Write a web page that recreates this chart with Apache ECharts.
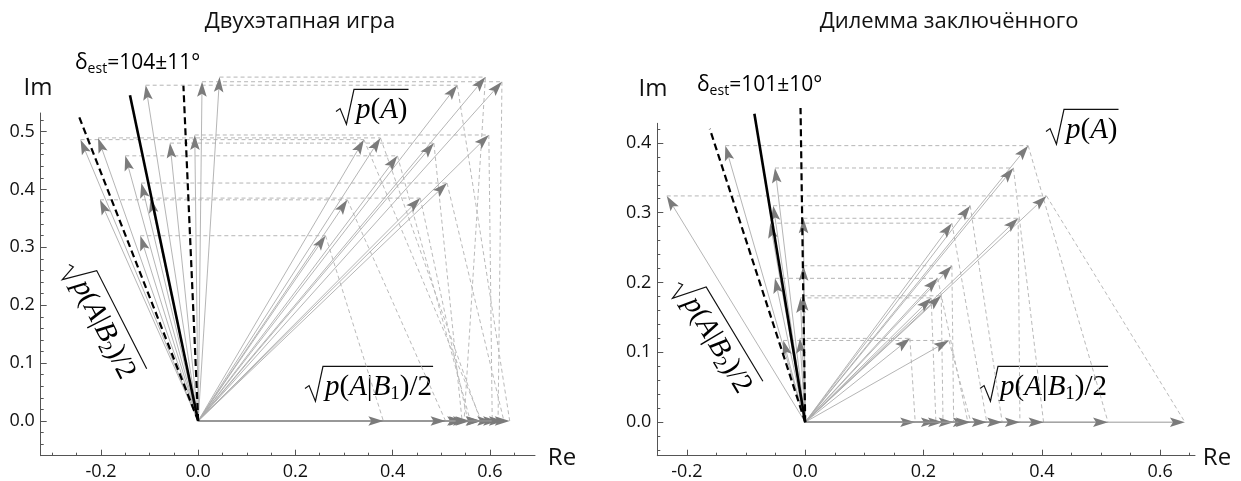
<!DOCTYPE html>
<html><head><meta charset="utf-8">
<script src="https://cdn.jsdelivr.net/npm/echarts@6/dist/echarts.min.js"></script>
<style>html,body{margin:0;padding:0;background:#fff}#c{width:1241px;height:481px}</style>
</head><body><div id="c"></div>
<script>
// ---------- DATA ----------
// Left panel: Двухэтапная игра
const leftB1Re = [0.547, 0.617, 0.641, 0.605, 0.581, 0.583, 0.543, 0.560, 0.629, 0.555, 0.509, 0.381];
const leftB2Re = [0.044, 0.008, -0.108, -0.007, -0.206, -0.242, -0.058, -0.150, -0.117, -0.098, -0.202, -0.119];
const leftB2Im = [0.594, 0.586, 0.580, 0.494, 0.489, 0.486, 0.480, 0.458, 0.411, 0.385, 0.382, 0.320];
const leftDeltaDeg = [104, 93, 115];   // estimate, lower, upper
const leftDeltaLen = 0.58;
// Right panel: Дилемма заключённого
const rightB1Re = [0.642, 0.512, 0.403, 0.363, 0.333, 0.307, 0.251, 0.275, 0.233, 0.221, 0.186, 0.280];
const rightB2Re = [-0.234, -0.135, -0.051, -0.003, -0.054, -0.059, -0.003, -0.051, -0.003, -0.008, -0.009, -0.037];
const rightB2Im = [0.324, 0.396, 0.364, 0.292, 0.310, 0.285, 0.224, 0.206, 0.181, 0.178, 0.120, 0.117];
const rightDeltaDeg = [101, 91, 111];
const rightDeltaLen = 0.45;
// Tick labels
const leftXTicks = [-0.2, 0, 0.2, 0.4, 0.6];
const leftXMinor = [-0.3, -0.25, -0.2, -0.15, -0.1, -0.05, 0, 0.05, 0.1, 0.15, 0.2, 0.25, 0.3, 0.35, 0.4, 0.45, 0.5, 0.55, 0.6, 0.65];
const leftYTicks = [0, 0.1, 0.2, 0.3, 0.4, 0.5];
const leftYMinor = [-0.04, -0.02, 0, 0.02, 0.04, 0.06, 0.08, 0.1, 0.12, 0.14, 0.16, 0.18, 0.2, 0.22, 0.24, 0.26, 0.28, 0.3, 0.32, 0.34, 0.36, 0.38, 0.4, 0.42, 0.44, 0.46, 0.48, 0.5, 0.52];
const rightXTicks = [-0.2, 0, 0.2, 0.4, 0.6];
const rightXMinor = [-0.2, -0.15, -0.1, -0.05, 0, 0.05, 0.1, 0.15, 0.2, 0.25, 0.3, 0.35, 0.4, 0.45, 0.5, 0.55, 0.6, 0.65];
const rightYTicks = [0, 0.1, 0.2, 0.3, 0.4];
const rightYMinor = [-0.04, -0.02, 0, 0.02, 0.04, 0.06, 0.08, 0.1, 0.12, 0.14, 0.16, 0.18, 0.2, 0.22, 0.24, 0.26, 0.28, 0.3, 0.32, 0.34, 0.36, 0.38, 0.4, 0.42];
const titles = ['Двухэтапная игра', 'Дилемма заключённого'];
const deltaLabels = ['104±11°', '101±10°'];

// ---------- CHART ----------
const chart = echarts.init(document.getElementById('c'), null, {renderer: 'canvas'});
const SANS = '"Open Sans", sans-serif';
const MF = '"Liberation Serif", serif';
const AX = '#555';

function majorX(g, mn, mx, ticks) {
  return {type: 'value', gridIndex: g, position: 'bottom', min: mn, max: mx,
    axisLine: {show: true, onZero: false, lineStyle: {color: AX, width: 1}},
    axisTick: {show: true, inside: true, length: 6, customValues: ticks, lineStyle: {color: AX}},
    axisLabel: {show: true, customValues: ticks, formatter: v => v.toFixed(1), fontFamily: SANS, fontSize: 18, color: '#111', margin: 7},
    splitLine: {show: false}};
}
function minorX(g, mn, mx, ticks) {
  return {type: 'value', gridIndex: g, position: 'bottom', min: mn, max: mx,
    axisLine: {show: false, onZero: false},
    axisTick: {show: true, inside: true, length: 3, customValues: ticks, lineStyle: {color: AX}},
    axisLabel: {show: false}, splitLine: {show: false}};
}
function majorY(g, mn, mx, ticks) {
  return {type: 'value', gridIndex: g, position: 'left', min: mn, max: mx,
    axisLine: {show: true, onZero: false, lineStyle: {color: AX, width: 1}},
    axisTick: {show: true, inside: true, length: 6, customValues: ticks, lineStyle: {color: AX}},
    axisLabel: {show: true, customValues: ticks, formatter: v => v.toFixed(1), fontFamily: SANS, fontSize: 18, color: '#111', margin: 6},
    splitLine: {show: false}};
}
function minorY(g, mn, mx, ticks) {
  return {type: 'value', gridIndex: g, position: 'left', min: mn, max: mx,
    axisLine: {show: false, onZero: false},
    axisTick: {show: true, inside: true, length: 3, customValues: ticks, lineStyle: {color: AX}},
    axisLabel: {show: false}, splitLine: {show: false}};
}

function makeRender(lineStyle, head) {
  return function (params, api) {
    const p0 = api.coord([api.value(0), api.value(1)]);
    const p1 = api.coord([api.value(2), api.value(3)]);
    const dx = p1[0] - p0[0], dy = p1[1] - p0[1];
    const L = Math.hypot(dx, dy) || 1;
    const ux = dx / L, uy = dy / L, nx = -uy, ny = ux;
    const hl = 15, hw = 4.8, notch = 3;
    const children = [];
    const endCut = head ? hl - notch : 0;
    children.push({type: 'line', shape: {x1: p0[0], y1: p0[1], x2: p1[0] - ux * endCut, y2: p1[1] - uy * endCut}, style: Object.assign({fill: null}, lineStyle)});
    if (head) {
      const bx = p1[0] - ux * hl, by = p1[1] - uy * hl;
      children.push({type: 'polygon', shape: {points: [
        [p1[0], p1[1]], [bx + nx * hw, by + ny * hw], [p1[0] - ux * (hl - notch), p1[1] - uy * (hl - notch)], [bx - nx * hw, by - ny * hw]]},
        style: {fill: '#7b7b7b', stroke: null}});
    }
    return {type: 'group', children};
  };
}

function panelSeries(xi, yi, b1, b2r, b2i, deg, len) {
  const dashH = [], dashD = [], arB1 = [], arB2 = [], arSum = [];
  for (let k = 0; k < b1.length; k++) {
    const sRe = b1[k] + b2r[k], sIm = b2i[k];
    dashH.push([b2r[k], sIm, sRe, sIm]);
    dashD.push([sRe, sIm, b1[k], 0]);
    arB1.push([0, 0, b1[k], 0]);
    arB2.push([0, 0, b2r[k], b2i[k]]);
    arSum.push([0, 0, sRe, sIm]);
  }
  const dl = deg.map(d => [0, 0, len * Math.cos(d * Math.PI / 180), len * Math.sin(d * Math.PI / 180)]);
  const base = {type: 'custom', xAxisIndex: xi, yAxisIndex: yi, clip: false, encode: {x: [0, 2], y: [1, 3]}, silent: true};
  return [
    Object.assign({}, base, {z: 1, data: dashH, renderItem: makeRender({stroke: '#b5b5b5', lineWidth: 1, lineDash: [4, 3]}, false)}),
    Object.assign({}, base, {z: 1, data: dashD, renderItem: makeRender({stroke: '#bababa', lineWidth: 1, lineDash: [4, 3]}, false)}),
    Object.assign({}, base, {z: 2, data: arB1, renderItem: makeRender({stroke: '#999', lineWidth: 1}, true)}),
    Object.assign({}, base, {z: 2, data: arSum, renderItem: makeRender({stroke: '#adadad', lineWidth: 0.9}, true)}),
    Object.assign({}, base, {z: 2, data: arB2, renderItem: makeRender({stroke: '#adadad', lineWidth: 0.9}, true)}),
    Object.assign({}, base, {z: 3, data: [dl[0]], renderItem: makeRender({stroke: '#000', lineWidth: 2.6}, false)}),
    Object.assign({}, base, {z: 3, data: [dl[1], dl[2]], renderItem: makeRender({stroke: '#000', lineWidth: 2.2, lineDash: [7, 4]}, false)})
  ];
}

// ----- math labels -----
const MSZ = 29, SSZ = 19;
const rich = {
  i: {fontFamily: MF, fontStyle: 'italic', fontSize: MSZ, lineHeight: 34, color: '#111'},
  r: {fontFamily: MF, fontSize: MSZ, lineHeight: 34, color: '#111'},
  s: {fontFamily: MF, fontSize: SSZ, lineHeight: 19, color: '#111', verticalAlign: 'bottom'}
};
const cv = document.createElement('canvas').getContext('2d');
function segW(t, s) {
  const st = rich[s];
  cv.font = (st.fontStyle === 'italic' ? 'italic ' : '') + st.fontSize + 'px ' + st.fontFamily;
  return cv.measureText(t).width;
}
function sqrtLabel(x, y, rotDeg, segs) {
  let txt = '', w = 0;
  segs.forEach(([t, s]) => { txt += '{' + s + '|' + t + '}'; w += segW(t, s); });
  const top = -0.64 * MSZ, x0 = 0.62 * MSZ;
  return {type: 'group', x: x, y: y, rotation: -rotDeg * Math.PI / 180, children: [
    {type: 'polyline', shape: {points: [[0, 0.12 * MSZ], [0.14 * MSZ, 0.02 * MSZ], [0.36 * MSZ, 0.56 * MSZ], [x0, top], [x0 + w + 3, top]]}, style: {stroke: '#111', lineWidth: 1.2, fill: null}},
    {type: 'text', x: x0 + 2, y: 2, style: {text: txt, rich: rich, verticalAlign: 'middle', align: 'left'}}
  ]};
}
const segA = [['p', 'i'], ['(', 'r'], ['A', 'i'], [')', 'r']];
const segB1 = [['p', 'i'], ['(', 'r'], ['A', 'i'], ['|', 'r'], ['B', 'i'], ['1', 's'], [')/2', 'r']];
const segB2 = [['p', 'i'], ['(', 'r'], ['A', 'i'], ['|', 'r'], ['B', 'i'], ['2', 's'], [')/2', 'r']];

function deltaLabel(x, y, val) {
  return {type: 'text', x: x, y: y, style: {text: '{n|δ}{s|est}{n|=' + val + '}', verticalAlign: 'middle', align: 'left',
    rich: {n: {fontFamily: SANS, fontSize: 21, lineHeight: 26, color: '#111'}, s: {fontFamily: SANS, fontSize: 14, lineHeight: 14, color: '#111', verticalAlign: 'bottom'}}}};
}
function plain(x, y, t, size, align) {
  return {type: 'text', x: x, y: y, style: {text: t, fontFamily: SANS, fontSize: size, fill: '#111', align: align || 'center', verticalAlign: 'middle'}};
}

const option = {
  animation: false,
  backgroundColor: '#fff',
  grid: [
    {left: 40.7, top: 113, width: 494.3, height: 342.7},
    {left: 657.3, top: 123.3, width: 537.7, height: 332.4}
  ],
  xAxis: [majorX(0, -0.324, 0.693, leftXTicks), minorX(0, -0.324, 0.693, leftXMinor),
          majorX(1, -0.25, 0.659, rightXTicks), minorX(1, -0.25, 0.659, rightXMinor)],
  yAxis: [majorY(0, -0.06, 0.532, leftYTicks), minorY(0, -0.06, 0.532, leftYMinor),
          majorY(1, -0.048, 0.428, rightYTicks), minorY(1, -0.048, 0.428, rightYMinor)],
  series: [].concat(
    panelSeries(0, 0, leftB1Re, leftB2Re, leftB2Im, leftDeltaDeg, leftDeltaLen),
    panelSeries(2, 2, rightB1Re, rightB2Re, rightB2Im, rightDeltaDeg, rightDeltaLen)
  ),
  graphic: [
    plain(300, 22, titles[0], 22),
    plain(949, 22, titles[1], 22),
    plain(38, 88, 'Im', 24),
    plain(653, 89, 'Im', 24),
    plain(562, 458, 'Re', 24),
    plain(1217, 458, 'Re', 24),
    deltaLabel(75, 63, deltaLabels[0]),
    deltaLabel(697, 85, deltaLabels[1]),
    sqrtLabel(336, 108, 0, segA),
    sqrtLabel(1046, 128, 0, segA),
    sqrtLabel(305, 385, 0, segB1),
    sqrtLabel(980, 385, 0, segB1),
    sqrtLabel(72, 263, 63, segB2),
    sqrtLabel(681, 281, 59, segB2)
  ]
};
chart.setOption(option);
</script>
</body></html>
